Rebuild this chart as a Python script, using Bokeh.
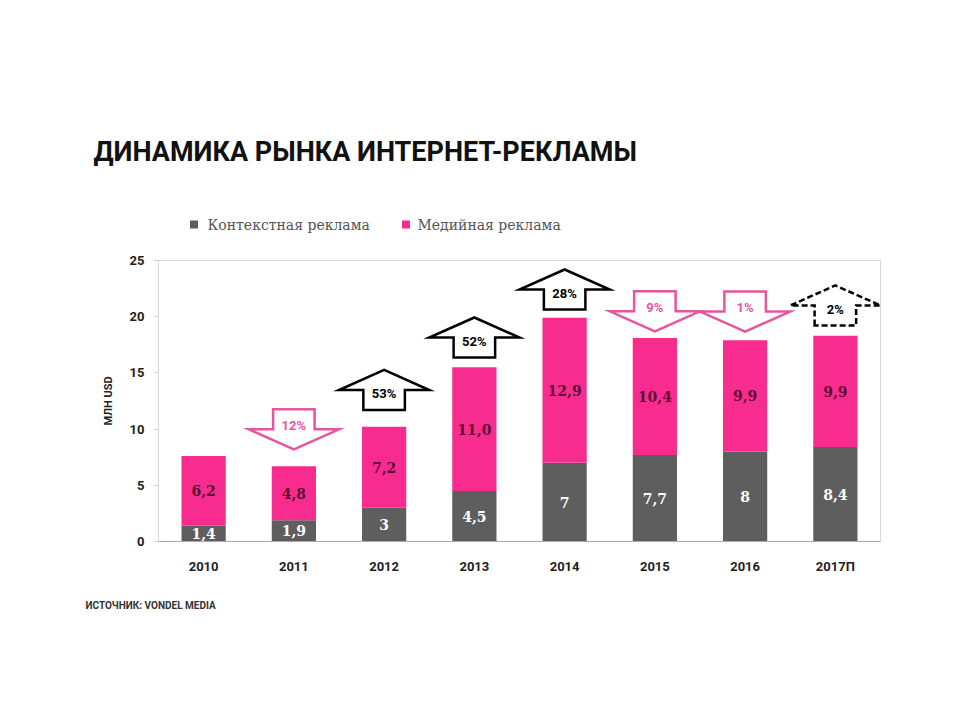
from bokeh.plotting import figure
from bokeh.layouts import column
from bokeh.models import Range1d, FixedTicker, Plot
from bokeh.core.properties import value
from bokeh.embed import file_html
from bokeh.resources import INLINE

# ---------------- data ----------------
years = ["2010", "2011", "2012", "2013", "2014", "2015", "2016", "2017П"]
context = [1.4, 1.9, 3.0, 4.5, 7.0, 7.7, 8.0, 8.4]      # Контекстная реклама
media = [6.2, 4.8, 7.2, 11.0, 12.9, 10.4, 9.9, 9.9]     # Медийная реклама
growth = ["", "12%", "53%", "52%", "28%", "9%", "1%", "2%"]
direction = ["", "down", "up", "up", "up", "down", "down", "forecast"]
y_ticks = [0, 5, 10, 15, 20, 25]
series_names = ["Контекстная реклама", "Медийная реклама"]
title_text = "ДИНАМИКА РЫНКА ИНТЕРНЕТ-РЕКЛАМЫ"
source_text = "ИСТОЧНИК: VONDEL MEDIA"
y_label = "МЛН USD"

# ---------------- style ----------------
COND = "Roboto, Liberation Sans, sans-serif"
SERIF = "DejaVu Serif, Liberation Serif, serif"
GRAY = "#5e5e5e"
PINK = "#f72c8e"
ARROW_PINK = "#e6559e"
ARROW_H = 3.56
BOX_HW = 0.23
WING_HW = 0.5
arrow_gap = [0, 1.5, 1.5, 0.87, 0.74, 0.6, 0.78, 0.92]
W = 944
HAS_FRAME_ALIGN = "frame_align" in Plot.properties()


def blank(height):
    f = figure(width=W, height=height, x_range=Range1d(0, W), y_range=Range1d(0, height),
               x_axis_type=None, y_axis_type=None, output_backend="svg", toolbar_location=None,
               min_border=0)
    f.title.visible = False
    f.outline_line_color = None
    f.xgrid.visible = False
    f.ygrid.visible = False
    if HAS_FRAME_ALIGN:
        f.frame_align = False
    return f


# ---------------- header: title + legend ----------------
HH = 250
header = blank(HH)
header.text(x=[93], y=[HH - 151], text=[title_text], text_font=value(COND), text_font_style="bold",
            text_font_size="27px", text_color="#111111", text_baseline="middle")
header.scatter(x=[193.5, 405.5], y=[HH - 224, HH - 224], marker="square", size=8,
               fill_color=[GRAY, PINK], line_color=None)
header.text(x=[207, 417], y=[HH - 224, HH - 224], text=series_names, text_font=value(SERIF),
            text_font_size="14px", text_color="#555555", text_baseline="middle")

# ---------------- main chart ----------------
xs = [i + 0.5 for i in range(len(years))]
totals = [c + m for c, m in zip(context, media)]

p = figure(width=W, height=335, x_range=Range1d(0, len(years)), y_range=Range1d(0, 25),
           output_backend="svg", toolbar_location=None,
           min_border_left=158, min_border_right=64, min_border_top=10, min_border_bottom=44)
p.title.visible = False
p.xgrid.visible = False
p.ygrid.visible = False
p.outline_line_color = "#d8d8d8"
p.outline_line_width = 1

p.yaxis.ticker = FixedTicker(ticks=y_ticks)
p.yaxis.minor_tick_line_color = None
p.yaxis.major_tick_in = 0
p.yaxis.major_tick_out = 4
p.yaxis.major_tick_line_color = "#cccccc"
p.yaxis.axis_line_color = "#d8d8d8"
p.yaxis.major_label_text_font = COND
p.yaxis.major_label_text_font_style = "bold"
p.yaxis.major_label_text_font_size = "13px"
p.yaxis.major_label_text_color = "#222222"
p.yaxis.major_label_standoff = 10
p.yaxis.axis_label = y_label
p.yaxis.axis_label_text_font = COND
p.yaxis.axis_label_text_font_style = "bold"
p.yaxis.axis_label_text_font_size = "11px"
p.yaxis.axis_label_text_color = "#222222"
p.yaxis.axis_label_standoff = 12

p.xaxis.ticker = FixedTicker(ticks=xs)
p.xaxis.major_label_overrides = {x: y for x, y in zip(xs, years)}
p.xaxis.minor_tick_line_color = None
p.xaxis.major_tick_line_color = None
p.xaxis.axis_line_color = "#aaaaaa"
p.xaxis.major_label_text_font = COND
p.xaxis.major_label_text_font_style = "bold"
p.xaxis.major_label_text_font_size = "13px"
p.xaxis.major_label_text_color = "#222222"
p.xaxis.major_label_standoff = 11

p.vbar(x=xs, bottom=0, top=context, width=0.49, fill_color=GRAY, line_color=None)
p.vbar(x=xs, bottom=context, top=totals, width=0.49, fill_color=PINK, line_color=None)


def fmt_ctx(v):
    return f"{v:g}".replace(".", ",")


def fmt_media(v):
    return f"{v:.1f}".replace(".", ",")


p.text(x=xs, y=[c / 2 for c in context], text=[fmt_ctx(v) for v in context],
       text_align="center", text_baseline="middle", text_color="white",
       text_font=value(SERIF), text_font_style="bold", text_font_size="14px")
p.text(x=xs, y=[c + m / 2 for c, m in zip(context, media)], text=[fmt_media(v) for v in media],
       text_align="center", text_baseline="middle", text_color="#5a0f33",
       text_font=value(SERIF), text_font_style="bold", text_font_size="14px")

groups = {"up": ([], [], [], [], []), "down": ([], [], [], [], []), "forecast": ([], [], [], [], [])}
for x, tot, g, d, gap in zip(xs, totals, growth, direction, arrow_gap):
    if not d:
        continue
    b = tot + gap
    s = b + ARROW_H / 2
    px = [x - BOX_HW, x - BOX_HW, x - WING_HW, x, x + WING_HW, x + BOX_HW, x + BOX_HW]
    if d in ("up", "forecast"):
        py = [b, s, s, b + ARROW_H, s, s, b]
        ty = s - 0.35
    else:
        py = [b + ARROW_H, s, s, b, s, s, b + ARROW_H]
        ty = s + 0.35
    grp = groups[d]
    grp[0].append(px)
    grp[1].append(py)
    grp[2].append(x)
    grp[3].append(ty)
    grp[4].append(g)

styles = {"up": ("black", "solid"), "down": (ARROW_PINK, "solid"), "forecast": ("black", "6 3")}
for d, (axs, ays, tx, ty, tt) in groups.items():
    if not axs:
        continue
    col, dash = styles[d]
    p.patches(xs=axs, ys=ays, fill_color="white", line_color=col, line_width=2.5,
              line_dash=dash, line_join="miter")
    p.text(x=tx, y=ty, text=tt, text_align="center", text_baseline="middle",
           text_color=col, text_font=value(COND), text_font_style="bold", text_font_size="13px")

# ---------------- footer: source ----------------
FH = 704 - 585
footer = blank(FH)
footer.text(x=[85], y=[FH - (605 - 585)], text=[source_text], text_font=value(COND),
            text_font_style="bold", text_font_size="10px", text_color="#333333",
            text_baseline="middle")

layout = column(header, p, footer, spacing=0)
open("out.html", "w").write(file_html(layout, INLINE))
